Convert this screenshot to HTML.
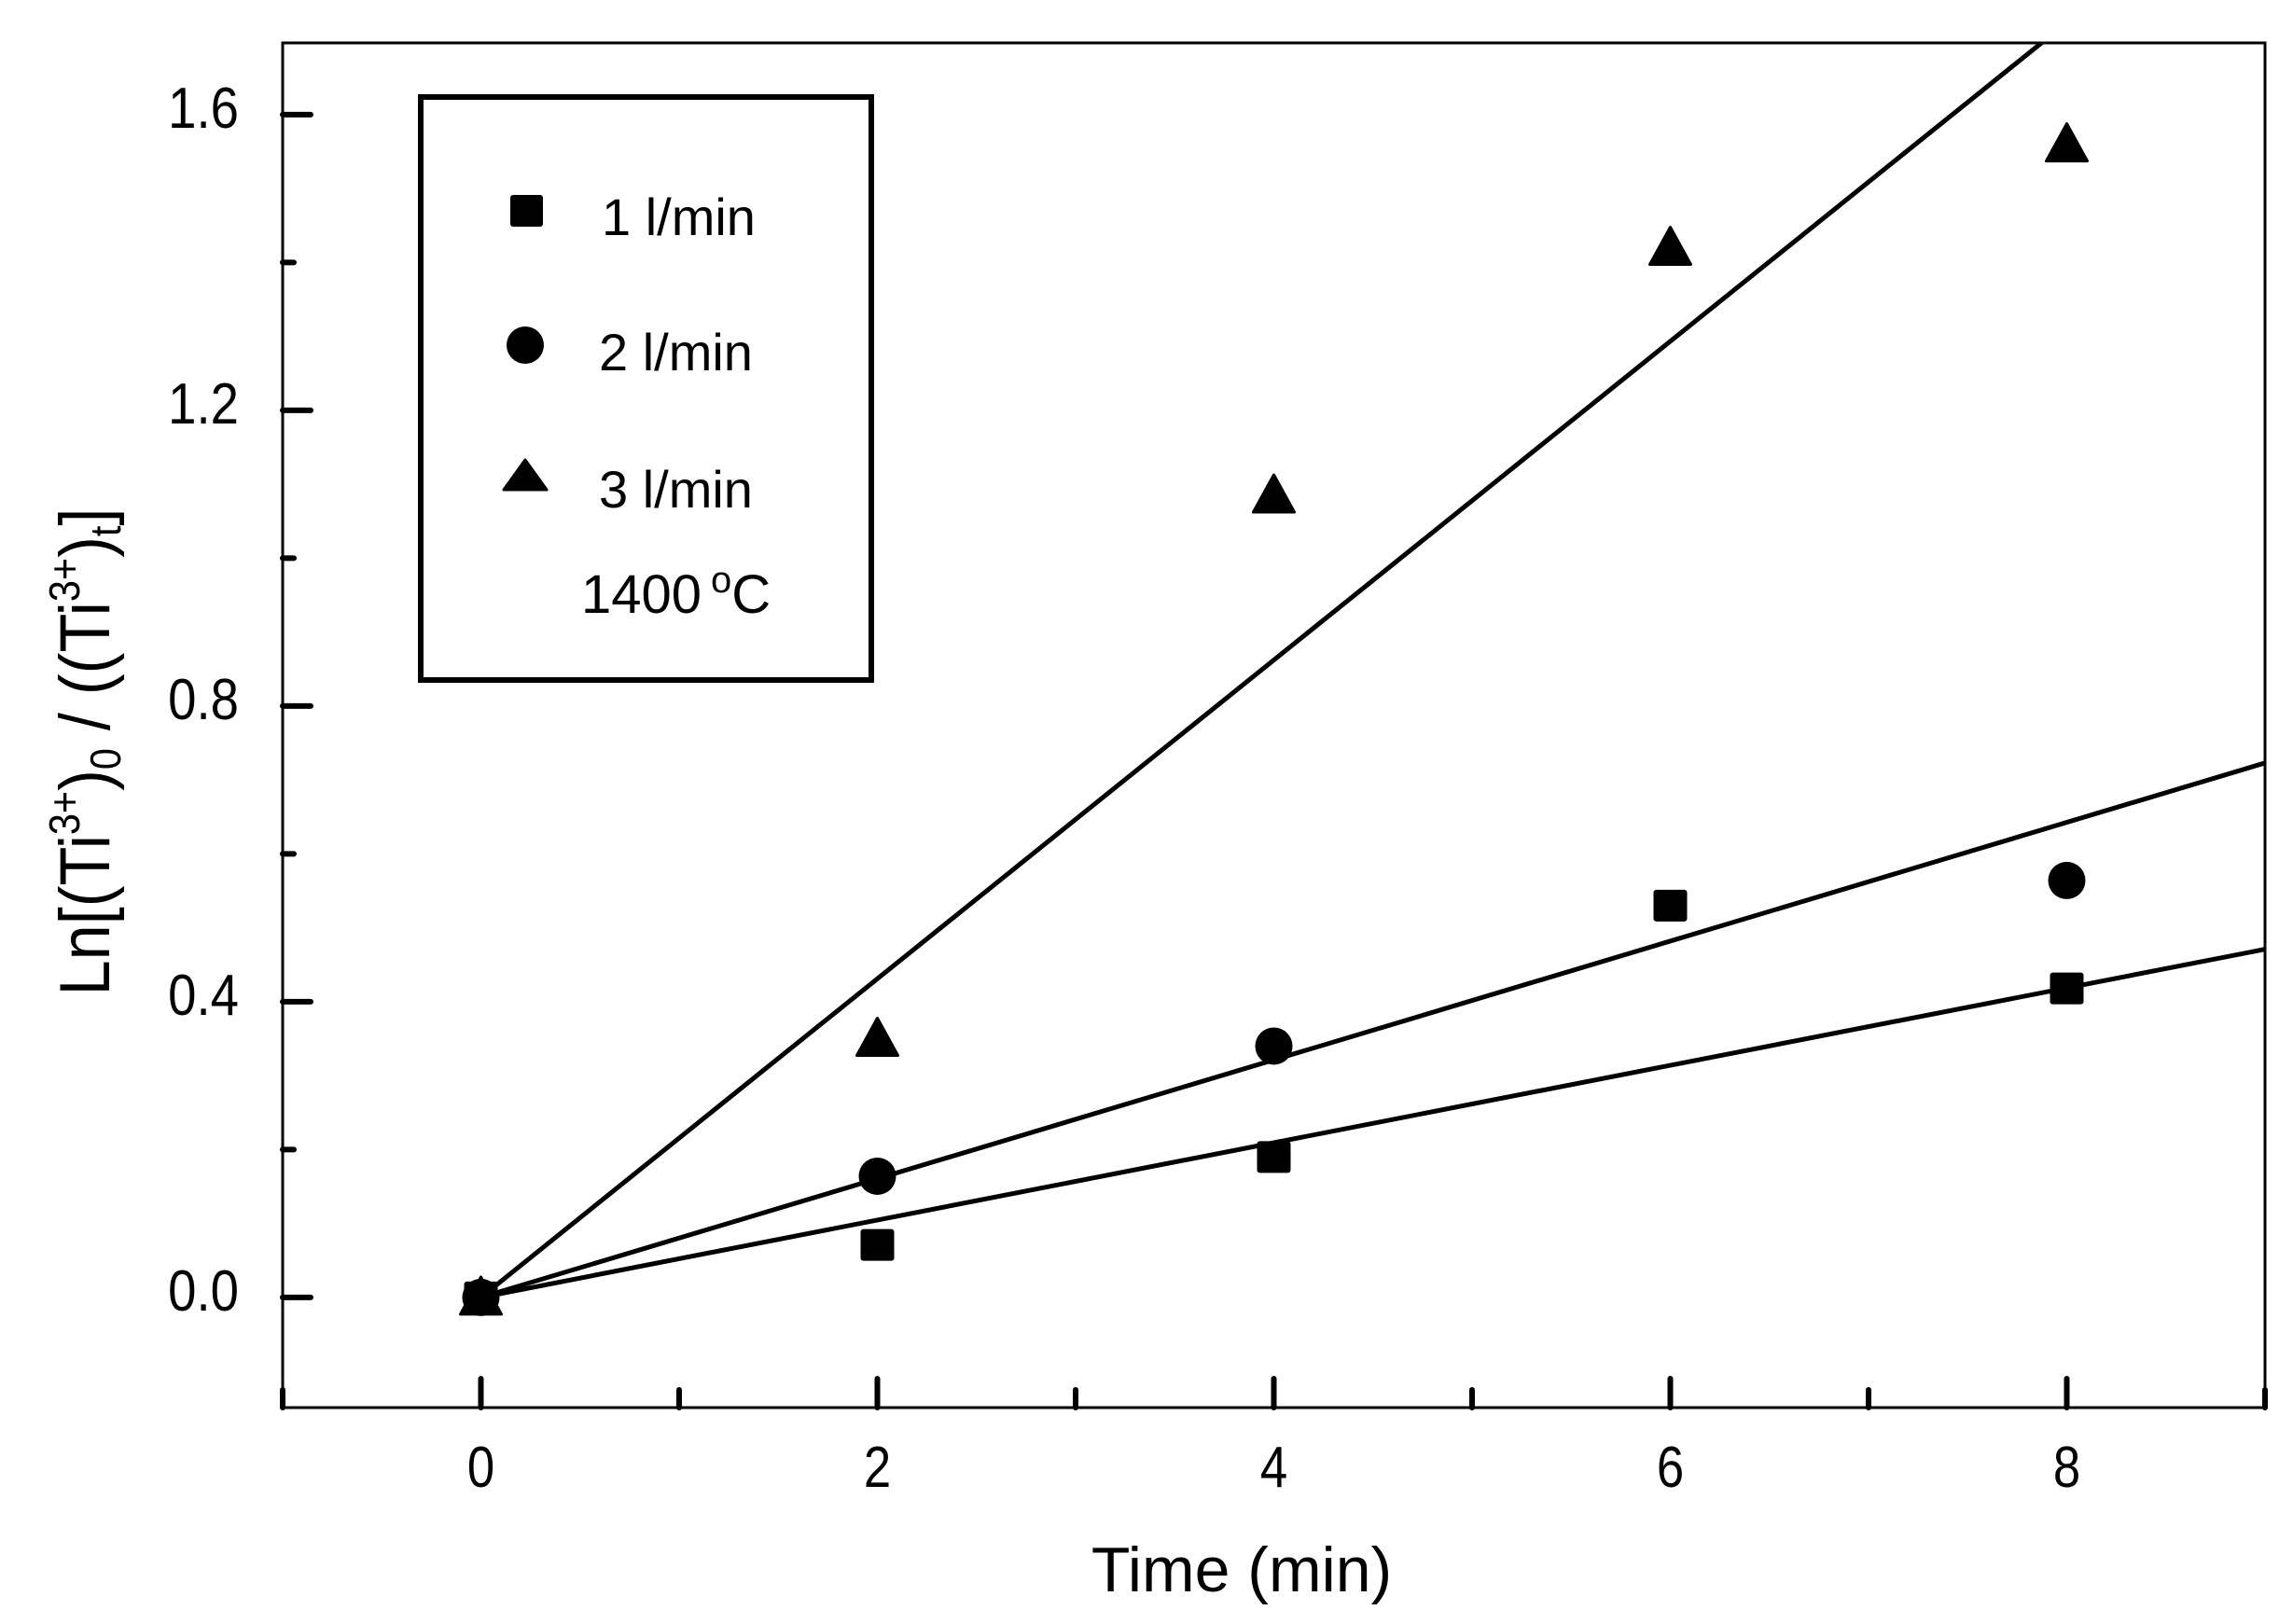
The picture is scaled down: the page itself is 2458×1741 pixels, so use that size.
<!DOCTYPE html>
<html><head><meta charset="utf-8"><style>
html,body{margin:0;padding:0;background:#fff}
svg{display:block}
text{font-family:"Liberation Sans",Arial,sans-serif;fill:#000}
</style></head><body>
<svg id="chart" width="2458" height="1741" viewBox="0 0 2458 1741" xmlns="http://www.w3.org/2000/svg">
<rect x="0" y="0" width="2458" height="1741" fill="#fff"/>
<g id="axes"></g>
<g id="fits"></g>
<g id="marks"></g>
<g>
  <rect x="451" y="104" width="483" height="625" fill="none" stroke="#000" stroke-width="6"/>
  <rect x="547" y="209" width="35" height="34" rx="3" fill="#000"/>
  <text x="645" y="252" font-size="56">1 l/min</text>
  <circle cx="563" cy="370" r="20" fill="#000"/>
  <text x="642" y="397" font-size="56">2 l/min</text>
  <polygon points="563,493 586,525 540,525" fill="#000" stroke="#000" stroke-width="3" stroke-linejoin="round"/>
  <text x="642" y="544" font-size="56">3 l/min</text>
  <text x="623" y="657" font-size="58">1400<tspan dx="10" dy="-22" font-size="40">o</tspan><tspan dy="22">C</tspan></text>
</g>
<text x="1331" y="1706" font-size="68" text-anchor="middle">Time (min)</text>
<g transform="translate(117,806) rotate(-90) scale(0.9,1)">
  <text x="0" y="0" font-size="76" text-anchor="middle">Ln[(Ti<tspan dy="-32" font-size="46">3+</tspan><tspan dy="32">)</tspan><tspan dy="12" font-size="46">0</tspan><tspan dy="-12"> / ((Ti</tspan><tspan dy="-32" font-size="46">3+</tspan><tspan dy="32">)</tspan><tspan dy="12" font-size="46">t</tspan><tspan dy="-12">]</tspan></text>
</g>
</svg>
<script>
const xTicks = [0, 2, 4, 6, 8];
const xMinor = [-1, 1, 3, 5, 7, 9];
const yTicks = [0.0, 0.4, 0.8, 1.2, 1.6];
const yTickLabels = ["0.0", "0.4", "0.8", "1.2", "1.6"];
const yMinor = [0.2, 0.6, 1.0, 1.4];
const times = [0, 2, 4, 6, 8];
const flow1 = [0, 0.071, 0.19, 0.53, 0.418];
const flow2 = [0, 0.164, 0.34, null, 0.564];
const flow3 = [0, 0.35, 1.085, 1.42, 1.56];
const fitX = [0, 9];
const fit1 = [0, 0.471];
const fit2 = [0, 0.723];
const fit3 = [0, 1.94];

const X0 = 303, X1 = 2428, Y0 = 46, Y1 = 1509;
const xMin = -1, xMax = 9, yMin = -0.149, yMax = 1.697;
const sx = v => X0 + (v - xMin) / (xMax - xMin) * (X1 - X0);
const sy = v => Y1 - (v - yMin) / (yMax - yMin) * (Y1 - Y0);
const NS = "http://www.w3.org/2000/svg";
function mk(tag, attrs, parent) {
  const e = document.createElementNS(NS, tag);
  for (const k in attrs) e.setAttribute(k, attrs[k]);
  parent.appendChild(e);
  return e;
}
const axes = document.getElementById('axes');
const frame = mk('rect', {x: X0, y: Y0, width: X1 - X0, height: Y1 - Y0, fill: 'none', stroke: '#000', 'stroke-width': 3}, axes);


xTicks.forEach(t => {
  const l = mk('line', {x1: sx(t), x2: sx(t), y1: Y1, y2: Y1 - 31, stroke: '#000', 'stroke-width': 6, 'stroke-linecap': 'round'}, axes);
  
  
  const tx = mk('text', {x: sx(t), y: 1594, 'font-size': 62, 'text-anchor': 'middle', transform: `translate(${sx(t)},0) scale(0.85,1) translate(${-sx(t)},0)`}, axes);
  tx.textContent = String(t);
  
  
});
xMinor.forEach(t => {
  const l = mk('line', {x1: sx(t), x2: sx(t), y1: Y1, y2: Y1 - 19, stroke: '#000', 'stroke-width': 6, 'stroke-linecap': 'round'}, axes);
  
  
});
yTicks.forEach((t, i) => {
  const l = mk('line', {x1: X0, x2: X0 + 30, y1: sy(t), y2: sy(t), stroke: '#000', 'stroke-width': 6, 'stroke-linecap': 'round'}, axes);
  
  
  const tx = mk('text', {x: 256, y: sy(t) + 14, 'font-size': 62, 'text-anchor': 'end', transform: `translate(256,0) scale(0.88,1) translate(-256,0)`}, axes);
  tx.textContent = yTickLabels[i];
  
  
});
yMinor.forEach(t => {
  const l = mk('line', {x1: X0, x2: X0 + 12, y1: sy(t), y2: sy(t), stroke: '#000', 'stroke-width': 6, 'stroke-linecap': 'round'}, axes);
  
  
});
const fits = document.getElementById('fits');
const clip = mk('clipPath', {id: 'plotclip'}, document.getElementById('chart'));
mk('rect', {x: X0, y: Y0, width: X1 - X0, height: Y1 - Y0}, clip);
fits.setAttribute('clip-path', 'url(#plotclip)');
[[fit1, 'fit-line-1'], [fit2, 'fit-line-2'], [fit3, 'fit-line-3']].forEach(([f, n]) => {
  const l = mk('line', {x1: sx(fitX[0]), y1: sy(f[0]), x2: sx(fitX[1]), y2: sy(f[1]), stroke: '#000', 'stroke-width': 5, 'stroke-linecap': 'round'}, fits);
  
  
});
const marks = document.getElementById('marks');
times.forEach((t, i) => {
  const v3 = flow3[i];
  if (v3 !== null) {
    const x = sx(t), y = sy(v3);
    const p = mk('polygon', {points: `${x},${y - 22} ${x + 22},${y + 18} ${x - 22},${y + 18}`, fill: '#000', stroke: '#000', 'stroke-width': 3, 'stroke-linejoin': 'round'}, marks);
    
    
  }
  const v2 = flow2[i];
  if (v2 !== null) {
    const c = mk('circle', {cx: sx(t), cy: sy(v2), r: 20, fill: '#000'}, marks);
    
    
  }
  const v1 = flow1[i];
  if (v1 !== null) {
    const r = mk('rect', {x: sx(t) - 18, y: sy(v1) - 17, width: 36, height: 34, rx: 3, fill: '#000'}, marks);
    
    
  }
});
</script>
</body></html>
